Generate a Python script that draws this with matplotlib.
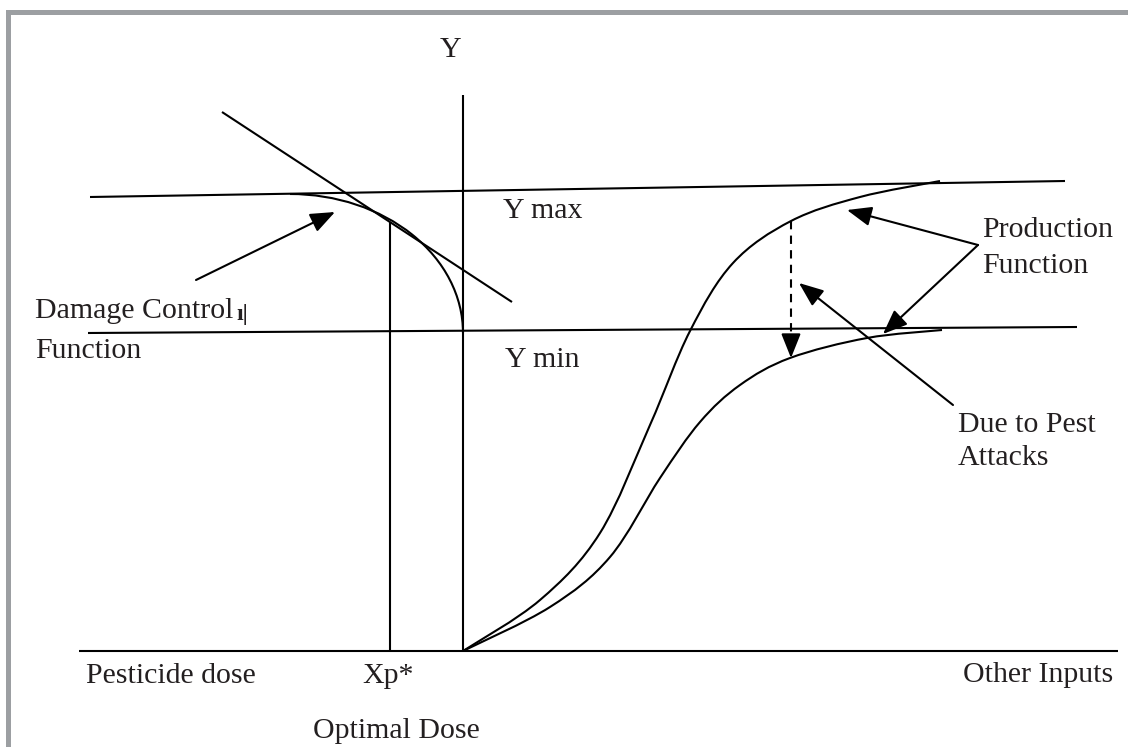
import matplotlib
matplotlib.use("Agg")
import matplotlib.pyplot as plt
import numpy as np
from matplotlib.patches import Arc, Rectangle, PathPatch
from matplotlib.path import Path

# all coordinates below (pixel space, y down)
W, H = 1128, 747

# straight lines: (x0, y0, x1, y1)
y_axis = (463, 95, 463, 651)
x_axis = (79, 651, 1118, 651)
ymax_line = (90, 197, 1065, 181)
ymin_line = (88, 333, 1077, 327)
tangent_line = (222, 112, 512, 302)
xp_line = (390, 222, 390, 651)

# damage control curve: quarter ellipse (centre x, centre y, half width, half height)
damage_curve = (290, 333, 173, 139)

# production functions (S-curves)
upper_x = [463, 540, 600, 650, 690, 733, 791, 860, 940]
upper_y = [651, 600, 533, 425, 331, 263, 221, 197, 181]
lower_x = [463, 550, 610, 660, 700, 740, 790, 867, 942]
lower_y = [651, 607, 557, 478, 422, 385, 358, 338, 330]

# arrows: (tail x, tail y, tip x, tip y)
arrows = [
    (196, 280, 335, 212),   # damage control
    (978, 245, 847, 210),   # production (upper)
    (978, 245, 883, 334),   # production (lower)
    (953, 405, 799, 283),   # pest attacks
]
loss_arrow = (791, 221, 791, 358)

# labels: (text, left x, baseline y)
labels = [
    ("Y", 440, 57),
    ("Y max", 503, 218),
    ("Y min", 505, 367),
    ("Damage Control", 35, 318),
    ("Function", 35, 358),
    ("Production", 982, 237),
    ("Function", 982, 273),
    ("Due to Pest", 958, 432),
    ("Attacks", 958, 465),
    ("Pesticide dose", 86, 683),
    ("Xp*", 362, 683),
    ("Other Inputs", 963, 682),
    ("Optimal Dose", 313, 738),
]


def smooth_path(xs, ys):
    # cubic bezier through the read points (catmull-rom tangents)
    p = np.column_stack([xs, ys]).astype(float)
    verts = [p[0]]
    codes = [Path.MOVETO]
    for i in range(len(p) - 1):
        p0 = p[i - 1] if i > 0 else p[i]
        p3 = p[i + 2] if i + 2 < len(p) else p[i + 1]
        c1 = p[i] + (p[i + 1] - p0) / 6
        c2 = p[i + 1] - (p3 - p[i]) / 6
        verts += [c1, c2, p[i + 1]]
        codes += [Path.CURVE4] * 3
    return Path(verts, codes)


fig = plt.figure(figsize=(W / 100, H / 100), dpi=100)
ax = fig.add_axes([0, 0, 1, 1])
ax.set_xlim(0, W)
ax.set_ylim(H, 0)
ax.axis("off")

# grey frame on top and left
ax.add_patch(Rectangle((6, 10), W - 6, 5, color="#9c9fa2", lw=0))
ax.add_patch(Rectangle((6, 10), 5, H - 10, color="#9c9fa2", lw=0))

lw = 1.5
for x0, y0, x1, y1 in [y_axis, x_axis, ymax_line, ymin_line, tangent_line, xp_line]:
    ax.plot([x0, x1], [y0, y1], color="black", lw=lw, solid_capstyle="butt")

cx, cy, a, b = damage_curve
ax.add_patch(Arc((cx, cy), 2 * a, 2 * b, theta1=270, theta2=360, color="black", lw=lw))

for xs, ys in [(upper_x, upper_y), (lower_x, lower_y)]:
    ax.add_patch(PathPatch(smooth_path(xs, ys), fill=False, edgecolor="black", lw=lw))

arrow_style = "-|>,head_length=0.5,head_width=0.2"
for x0, y0, x1, y1 in arrows:
    ax.annotate("", xy=(x1, y1), xytext=(x0, y0),
                arrowprops=dict(arrowstyle=arrow_style, color="black", lw=lw,
                                mutation_scale=30, shrinkA=0, shrinkB=0))

# dashed shaft, solid head
x0, y0, x1, y1 = loss_arrow
ax.plot([x0, x1], [y0, y1 - 12], color="black", lw=lw, linestyle=(0, (4, 3)))
ax.annotate("", xy=(x1, y1), xytext=(x0, y1 - 14),
            arrowprops=dict(arrowstyle=arrow_style, color="black", lw=lw,
                            mutation_scale=30, shrinkA=0, shrinkB=0))

for txt, x, y in labels:
    ax.text(x, y, txt, ha="left", va="baseline", fontsize=21.5,
            family="Liberation Serif", color="#231f20")
# stray mark after "Damage Control" in the original
ax.text(236, 320, "ı|", ha="left", va="baseline", fontsize=17,
        family="Liberation Serif", fontweight="bold", color="#231f20")

fig.savefig("out.png", dpi=100)
